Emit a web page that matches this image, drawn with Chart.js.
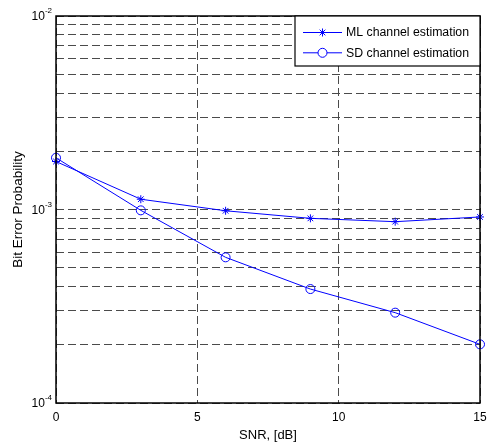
<!DOCTYPE html>
<html><head><meta charset="utf-8">
<script src="https://cdn.jsdelivr.net/npm/chart.js@4/dist/chart.umd.min.js"></script>
<style>html,body{margin:0;padding:0;background:#fff}</style>
</head><body>
<canvas id="c" width="488" height="446"></canvas>
<script>
const snr = [0, 3, 6, 9, 12, 15];
const mlBER = [1.77e-3, 1.13e-3, 0.985e-3, 0.90e-3, 0.865e-3, 0.915e-3];
const sdBER = [1.85e-3, 0.99e-3, 0.566e-3, 0.388e-3, 0.293e-3, 0.201e-3];
const seriesNames = ['ML channel estimation', 'SD channel estimation'];
const xTicks = [0, 5, 10, 15];
const yGridValues = [1e-4, 2e-4, 3e-4, 4e-4, 5e-4, 6e-4, 7e-4, 8e-4, 9e-4,
                     1e-3, 2e-3, 3e-3, 4e-3, 5e-3, 6e-3, 7e-3, 8e-3, 9e-3, 1e-2];
const yLabelValues = [1e-4, 1e-3, 1e-2];
const yLabelBase = '10';
const yLabelExps = ['-4', '-3', '-2'];
const xTitle = 'SNR, [dB]';
const yTitle = 'Bit Error Probability';

const FONT = '"Liberation Sans", Arial, Helvetica, sans-serif';
const BLUE = '#0000ff';
const GRID = '#4a4a4a';

const boxPlugin = {
  id: 'boxAndLegend',
  afterDraw(chart) {
    const ctx = chart.ctx;
    const a = chart.chartArea;
    const ys = chart.scales.y;
    ctx.save();
    ctx.fillStyle = '#000';
    ctx.textBaseline = 'middle';
    yLabelValues.forEach((v, i) => {
      const py = ys.getPixelForValue(v);
      ctx.font = '12px ' + FONT;
      const wb = ctx.measureText(yLabelBase).width;
      ctx.font = '8px ' + FONT;
      const we = ctx.measureText(yLabelExps[i]).width;
      const right = a.left - 4;
      const x0 = right - we - wb;
      ctx.font = '12px ' + FONT;
      ctx.textAlign = 'left';
      ctx.fillText(yLabelBase, x0, py + 1);
      ctx.font = '8px ' + FONT;
      ctx.fillText(yLabelExps[i], x0 + wb, py - 5);
    });
    ctx.strokeStyle = '#000';
    ctx.lineWidth = 1.5;
    ctx.strokeRect(a.left, a.top, a.right - a.left, a.bottom - a.top);
    const lw = 185, lh = 50;
    const lx = a.right - lw, ly = a.top;
    ctx.fillStyle = '#fff';
    ctx.fillRect(lx, ly, lw, lh);
    ctx.lineWidth = 1.2;
    ctx.strokeRect(lx, ly, lw, lh);
    const styles = ['star', 'circle'];
    const radii = [4, 4.5];
    seriesNames.forEach((name, i) => {
      const yy = ly + 16.5 + i * 20.3;
      ctx.strokeStyle = BLUE;
      ctx.lineWidth = 1;
      ctx.beginPath();
      ctx.moveTo(lx + 8, yy);
      ctx.lineTo(lx + 47, yy);
      ctx.stroke();
      ctx.fillStyle = '#fff';
      Chart.helpers.drawPoint(ctx, {pointStyle: styles[i], radius: radii[i], rotation: 0, borderWidth: 1}, lx + 27.5, yy);
      ctx.fillStyle = '#000';
      ctx.font = '12.3px ' + FONT;
      ctx.textAlign = 'left';
      ctx.textBaseline = 'middle';
      ctx.fillText(name, lx + 51, yy + 0.5);
    });
    ctx.restore();
  }
};

new Chart(document.getElementById('c'), {
  type: 'line',
  data: {
    datasets: [
      {
        label: seriesNames[0],
        data: snr.map((x, i) => ({x: x, y: mlBER[i]})),
        borderColor: BLUE, backgroundColor: 'rgba(0,0,0,0)',
        borderWidth: 1, pointStyle: 'star', pointRadius: 4,
        pointBorderColor: BLUE, pointBorderWidth: 1, tension: 0, clip: false
      },
      {
        label: seriesNames[1],
        data: snr.map((x, i) => ({x: x, y: sdBER[i]})),
        borderColor: BLUE, backgroundColor: 'rgba(0,0,0,0)',
        borderWidth: 1, pointStyle: 'circle', pointRadius: 4.5,
        pointBorderColor: BLUE, pointBackgroundColor: 'rgba(0,0,0,0)', pointBorderWidth: 1, tension: 0, clip: false
      }
    ]
  },
  options: {
    responsive: false,
    devicePixelRatio: 1,
    animation: false,
    layout: {padding: {top: 16, right: 8, left: 0, bottom: 0}},
    plugins: {legend: {display: false}, tooltip: {enabled: false}},
    scales: {
      x: {
        type: 'linear', min: 0, max: 15,
        afterBuildTicks: s => { s.ticks = xTicks.map(v => ({value: v})); },
        afterFit: s => { s.height = 43; s.paddingLeft = 0; s.paddingRight = 0; s.paddingTop = 0; s.paddingBottom = 0; },
        ticks: {color: '#000', font: {family: FONT, size: 12}, padding: 7, maxRotation: 0},
        grid: {color: GRID, lineWidth: 1, drawTicks: false},
        border: {display: false, dash: [8, 4]},
        title: {display: true, text: xTitle, color: '#000', font: {family: FONT, size: 13}, padding: {top: 0, bottom: 3}}
      },
      y: {
        type: 'logarithmic', min: 1e-4, max: 1e-2,
        afterBuildTicks: s => { s.ticks = yGridValues.map(v => ({value: v})); },
        afterFit: s => { s.width = 56; s.paddingLeft = 0; s.paddingRight = 0; s.paddingTop = 0; s.paddingBottom = 0; },
        ticks: {display: false},
        grid: {color: GRID, lineWidth: 1, drawTicks: false},
        border: {display: false, dash: [8, 4]},
        title: {display: true, text: yTitle, color: '#000', font: {family: FONT, size: 13.5}, padding: {top: 10, bottom: 0}}
      }
    }
  },
  plugins: [boxPlugin]
});
</script>
</body></html>
